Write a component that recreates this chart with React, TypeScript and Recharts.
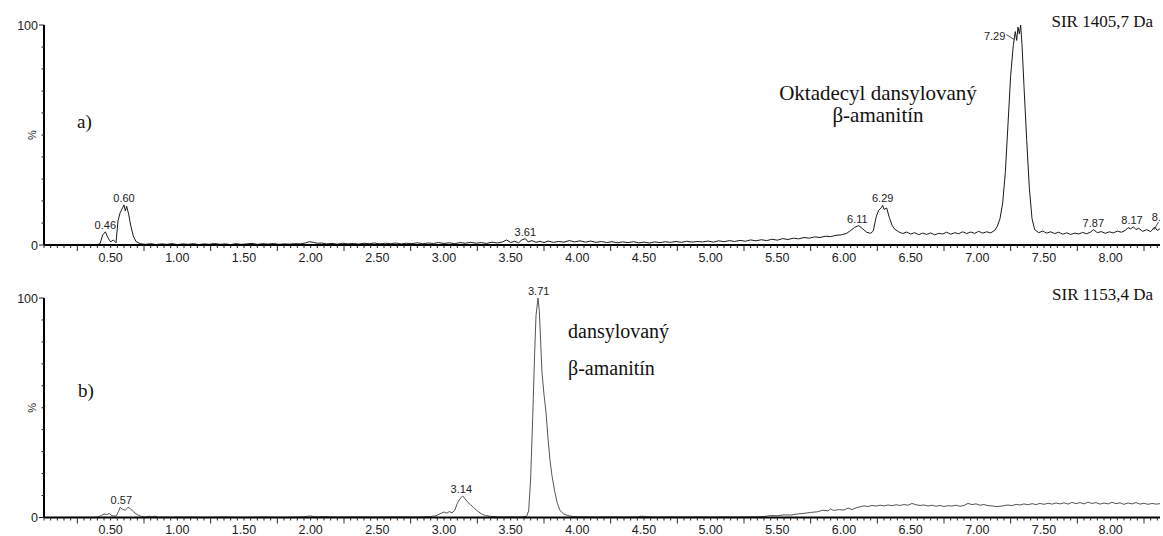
import { LineChart, Line, XAxis, YAxis, ReferenceDot } from 'recharts'

// SIR 1405,7 Da trace (time in min, intensity in %)
const traceA: [number, number][] = [
  [0.0, 0], [0.4, 0.2], [0.42, 0.6], [0.44, 4.5], [0.46, 6.0], [0.48, 3.2], [0.5, 1.4], [0.52, 2.3], [0.54, 1.0],
  [0.555, 11], [0.57, 14.5], [0.59, 17], [0.6, 18.2], [0.61, 15.5], [0.62, 17.6], [0.635, 14], [0.65, 9], [0.67, 4],
  [0.69, 1.6], [0.72, 0.6], [0.76, 0.3], [0.8, 0.6], [0.84, 0.2], [0.88, 0.5], [0.92, 0.3], [0.96, 0.6], [1.0, 0.2],
  [1.04, 0.5], [1.08, 0.3], [1.12, 0.6], [1.16, 0.2], [1.2, 0.5], [1.24, 0.3], [1.28, 0.7], [1.32, 0.3], [1.36, 0.5],
  [1.4, 0.2], [1.44, 0.6], [1.48, 0.3], [1.52, 0.5], [1.56, 0.7], [1.6, 0.3], [1.64, 0.6], [1.68, 0.4], [1.72, 0.7],
  [1.76, 0.3], [1.8, 0.5], [1.84, 0.4], [1.88, 0.6], [1.92, 0.5], [1.96, 0.9], [1.99, 1.5], [2.02, 1.2], [2.05, 0.8],
  [2.08, 0.9], [2.12, 0.5], [2.16, 0.7], [2.2, 0.4], [2.24, 0.8], [2.28, 0.5], [2.32, 0.7], [2.36, 0.4], [2.4, 0.8],
  [2.44, 0.6], [2.48, 0.9], [2.52, 0.5], [2.56, 0.8], [2.6, 0.6], [2.64, 0.9], [2.68, 0.5], [2.72, 0.8], [2.76, 0.6],
  [2.8, 1.0], [2.84, 0.6], [2.88, 0.9], [2.92, 0.7], [2.96, 1.1], [3.0, 0.7], [3.04, 1.0], [3.08, 0.6], [3.12, 1.1],
  [3.16, 0.8], [3.2, 1.2], [3.24, 0.8], [3.28, 1.1], [3.32, 0.7], [3.36, 1.3], [3.4, 0.9], [3.44, 1.4], [3.47, 2.3],
  [3.5, 1.1], [3.53, 1.7], [3.56, 1.0], [3.58, 2.2], [3.61, 2.9], [3.63, 1.4], [3.66, 2.0], [3.69, 1.2], [3.72, 1.7],
  [3.75, 1.1], [3.78, 1.8], [3.82, 1.2], [3.86, 1.6], [3.9, 1.3], [3.94, 2.0], [3.98, 1.4], [4.02, 1.9], [4.06, 1.3],
  [4.1, 1.8], [4.14, 1.2], [4.18, 1.6], [4.22, 1.1], [4.26, 1.5], [4.3, 1.0], [4.34, 1.4], [4.38, 1.1], [4.42, 1.5],
  [4.46, 1.0], [4.5, 1.3], [4.54, 0.9], [4.58, 1.4], [4.62, 1.1], [4.66, 1.5], [4.7, 1.2], [4.74, 1.6], [4.78, 1.2],
  [4.82, 1.7], [4.86, 1.3], [4.9, 1.6], [4.94, 1.4], [4.98, 1.8], [5.02, 1.3], [5.06, 1.9], [5.1, 1.5], [5.14, 2.0],
  [5.18, 1.6], [5.22, 2.1], [5.26, 1.7], [5.3, 2.3], [5.34, 1.9], [5.38, 2.4], [5.42, 2.0], [5.46, 2.6], [5.5, 2.2],
  [5.54, 2.9], [5.58, 2.5], [5.62, 3.1], [5.66, 2.8], [5.7, 3.4], [5.74, 3.1], [5.78, 3.7], [5.82, 3.4], [5.86, 4.0],
  [5.9, 3.8], [5.94, 4.4], [5.98, 4.6], [6.02, 5.3], [6.05, 6.6], [6.08, 8.0], [6.11, 8.8], [6.14, 7.4], [6.17, 5.8],
  [6.2, 5.3], [6.22, 6.4], [6.24, 12.5], [6.26, 15.8], [6.28, 17.0], [6.29, 18.0], [6.3, 16.2], [6.32, 16.8],
  [6.34, 12.5], [6.36, 9.0], [6.38, 7.2], [6.41, 6.0], [6.44, 5.2], [6.47, 5.9], [6.5, 5.0], [6.53, 5.6], [6.56, 4.7],
  [6.59, 5.4], [6.62, 4.8], [6.65, 5.5], [6.68, 4.6], [6.71, 5.3], [6.74, 5.0], [6.77, 5.8], [6.8, 4.9], [6.83, 5.6],
  [6.86, 5.1], [6.89, 6.0], [6.92, 5.2], [6.95, 5.9], [6.98, 5.3], [7.01, 6.2], [7.04, 5.4], [7.07, 6.0], [7.1, 5.5],
  [7.13, 6.6], [7.15, 8.5], [7.17, 12], [7.19, 19], [7.21, 33], [7.23, 55], [7.25, 77], [7.27, 91], [7.285, 97],
  [7.295, 93], [7.305, 99], [7.315, 96], [7.325, 100], [7.335, 91], [7.35, 72], [7.37, 48], [7.39, 26], [7.41, 12],
  [7.43, 7.0], [7.46, 5.6], [7.49, 6.3], [7.52, 5.4], [7.55, 6.0], [7.58, 5.2], [7.61, 5.8], [7.64, 4.9], [7.67, 5.5],
  [7.7, 4.8], [7.73, 5.4], [7.76, 5.0], [7.79, 5.7], [7.82, 5.1], [7.85, 5.9], [7.87, 7.0], [7.9, 5.6], [7.93, 6.1],
  [7.96, 5.3], [7.99, 6.0], [8.02, 5.5], [8.05, 6.3], [8.08, 5.8], [8.11, 6.6], [8.13, 7.9], [8.15, 7.3], [8.17, 8.3],
  [8.19, 7.0], [8.21, 7.6], [8.24, 6.2], [8.27, 7.0], [8.3, 6.1], [8.33, 8.2], [8.35, 6.6], [8.37, 7.4],
]

// SIR 1153,4 Da trace
const traceB: [number, number][] = [
  [0.0, 0], [0.4, 0.1], [0.43, 0.9], [0.45, 1.6], [0.47, 1.4], [0.49, 1.8], [0.51, 0.8], [0.54, 0.6], [0.56, 2.8],
  [0.57, 4.6], [0.59, 3.7], [0.61, 3.3], [0.63, 4.7], [0.65, 3.9], [0.67, 2.6], [0.7, 1.3], [0.73, 0.5], [0.76, 0.2],
  [0.79, 0.6], [0.81, 0.3], [0.83, 0.6], [0.86, 0.1], [0.9, 0.2], [0.95, 0.1], [1.0, 0.2], [1.05, 0.1], [1.1, 0.2],
  [1.2, 0.1], [1.35, 0.2], [1.5, 0.1], [1.65, 0.2], [1.8, 0.1], [1.95, 0.3], [1.99, 0.7], [2.02, 0.5], [2.06, 0.3],
  [2.1, 0.4], [2.2, 0.2], [2.35, 0.3], [2.5, 0.2], [2.65, 0.3], [2.8, 0.2], [2.9, 0.4], [2.94, 0.8], [2.97, 1.7],
  [3.0, 2.5], [3.02, 2.0], [3.04, 2.7], [3.06, 2.1], [3.08, 3.2], [3.1, 6.5], [3.12, 8.6], [3.14, 9.8], [3.16, 8.4],
  [3.18, 6.8], [3.2, 5.8], [3.22, 4.6], [3.25, 3.0], [3.28, 1.7], [3.31, 0.9], [3.35, 0.5], [3.4, 0.3], [3.45, 0.2],
  [3.5, 0.3], [3.55, 0.2], [3.6, 0.3], [3.62, 0.6], [3.635, 3], [3.65, 18], [3.665, 45], [3.68, 75], [3.69, 92],
  [3.705, 100], [3.715, 94], [3.725, 80], [3.735, 66], [3.75, 56], [3.765, 48], [3.78, 36], [3.795, 26], [3.81, 19],
  [3.83, 12], [3.85, 6.5], [3.87, 3.2], [3.9, 1.5], [3.94, 0.7], [3.98, 0.4], [4.05, 0.3], [4.15, 0.2], [4.25, 0.3],
  [4.35, 0.2], [4.45, 0.3], [4.48, 0.6], [4.52, 0.4], [4.6, 0.2], [4.7, 0.3], [4.8, 0.2], [4.9, 0.3], [5.0, 0.2],
  [5.1, 0.3], [5.2, 0.2], [5.3, 0.3], [5.4, 0.4], [5.45, 0.9], [5.5, 0.8], [5.55, 1.2], [5.6, 1.1], [5.65, 1.6],
  [5.7, 1.9], [5.75, 2.3], [5.8, 2.6], [5.84, 3.3], [5.88, 3.0], [5.9, 3.9], [5.92, 3.2], [5.96, 3.6], [6.0, 3.4],
  [6.03, 4.3], [6.06, 3.6], [6.09, 4.4], [6.12, 4.9], [6.15, 5.3], [6.18, 5.0], [6.21, 5.5], [6.24, 5.2], [6.27, 5.6],
  [6.3, 5.3], [6.33, 5.7], [6.36, 5.4], [6.39, 5.8], [6.42, 5.5], [6.45, 5.9], [6.48, 5.6], [6.51, 6.4], [6.54, 5.8],
  [6.57, 5.5], [6.6, 5.7], [6.63, 5.2], [6.66, 5.6], [6.69, 5.1], [6.72, 5.5], [6.75, 5.0], [6.78, 5.4], [6.81, 5.2],
  [6.84, 5.6], [6.87, 5.1], [6.9, 5.5], [6.93, 6.4], [6.96, 5.9], [6.99, 6.2], [7.02, 5.6], [7.05, 5.9], [7.08, 5.4],
  [7.11, 5.3], [7.14, 5.0], [7.17, 5.1], [7.2, 5.4], [7.23, 5.7], [7.26, 5.4], [7.29, 6.0], [7.32, 5.7], [7.35, 6.2],
  [7.38, 5.8], [7.41, 6.3], [7.44, 5.9], [7.47, 6.4], [7.5, 6.0], [7.53, 6.5], [7.56, 6.1], [7.59, 6.6], [7.62, 6.2],
  [7.65, 6.7], [7.68, 6.1], [7.71, 6.9], [7.74, 6.3], [7.77, 6.8], [7.8, 6.2], [7.83, 7.0], [7.86, 6.4], [7.89, 6.8],
  [7.92, 6.1], [7.95, 6.6], [7.98, 6.2], [8.01, 6.9], [8.04, 6.3], [8.07, 6.7], [8.1, 6.0], [8.13, 6.6], [8.16, 6.2],
  [8.19, 6.8], [8.22, 6.1], [8.25, 6.5], [8.28, 6.0], [8.31, 6.4], [8.34, 6.1], [8.37, 6.3],
]

type Peak = { t: number; v: number; label: string; kind?: 'left' | 'edge' }

const peaksA: Peak[] = [
  { t: 0.46, v: 6.0, label: '0.46' },
  { t: 0.6, v: 18.2, label: '0.60' },
  { t: 3.61, v: 2.9, label: '3.61' },
  { t: 6.1, v: 8.8, label: '6.11' },
  { t: 6.29, v: 18.0, label: '6.29' },
  { t: 7.285, v: 97, label: '7.29', kind: 'left' },
  { t: 7.87, v: 7.0, label: '7.87' },
  { t: 8.16, v: 8.3, label: '8.17' },
  { t: 8.33, v: 8.2, label: '8.', kind: 'edge' },
]

const peaksB: Peak[] = [
  { t: 0.58, v: 4.6, label: '0.57' },
  { t: 3.13, v: 9.8, label: '3.14' },
  { t: 3.71, v: 100, label: '3.71' },
]

const xLabels = ['0.50', '1.00', '1.50', '2.00', '2.50', '3.00', '3.50', '4.00', '4.50', '5.00', '5.50', '6.00', '6.50', '7.00', '7.50', '8.00']
const yLabels = ['0', '100']
const xTicks = Array.from({ length: 168 }, (_, i) => +(i * 0.05).toFixed(2))
const yTicks = [0, 10, 20, 30, 40, 50, 60, 70, 80, 90, 100]

const SANS = '"Liberation Sans", Arial, sans-serif'
const SERIF = '"Liberation Serif", "Times New Roman", serif'
const INK = '#222'

function TimeTick({ x, y, payload }: any) {
  const k = Math.round(payload.value * 20)
  const label = payload.value.toFixed(2)
  const len = k % 10 === 5 ? 6 : 3
  return (
    <g>
      <line x1={x} x2={x} y1={y} y2={y + len} stroke={INK} strokeWidth={1} />
      {xLabels.includes(label) && (
        <text x={x} y={y + 16.5} textAnchor="middle" fontSize={12.5} fontFamily={SANS} fill={INK}>{label}</text>
      )}
    </g>
  )
}

function PercentTick({ x, y, payload }: any) {
  const v = payload.value
  const label = String(v)
  const major = yLabels.includes(label)
  return (
    <g>
      <line x1={x - (major ? 5 : 2.5)} x2={x} y1={y} y2={y} stroke={INK} strokeWidth={1} />
      {major && (
        <text x={x - 6} y={y + 4.5} textAnchor="end" fontSize={12.5} fontFamily={SANS} fill={INK}>{label}</text>
      )}
      {v === 50 && (
        <text x={x - 8} y={y} textAnchor="middle" fontSize={11} fontFamily={SANS} fill={INK}
          transform={`rotate(-90, ${x - 8}, ${y})`}>%</text>
      )}
    </g>
  )
}

function peakShape(p: Peak) {
  return (props: any) => {
    const { cx, cy } = props
    const font = { fontSize: 11, fontFamily: SANS, fill: INK }
    if (p.kind === 'left') {
      return (
        <g>
          <text x={cx - 10} y={cy + 8} textAnchor="end" {...font}>{p.label}</text>
          <line x1={cx - 9} y1={cy + 3} x2={cx - 1} y2={cy + 8} stroke={INK} strokeWidth={0.8} />
        </g>
      )
    }
    if (p.kind === 'edge') {
      return (
        <g>
          <text x={cx - 3} y={cy - 6} textAnchor="start" {...font}>{p.label}</text>
          <line x1={cx + 4} y1={cy - 5} x2={cx - 1} y2={cy + 3} stroke={INK} strokeWidth={0.8} />
        </g>
      )
    }
    return <text x={cx} y={cy - 3} textAnchor="middle" {...font}>{p.label}</text>
  }
}

function Trace({ data, peaks, color, height, top, xHeight }: {
  data: [number, number][]; peaks: Peak[]; color: string; height: number; top: number; xHeight: number
}) {
  const rows = data.map(([t, v]) => ({ t, v }))
  return (
    <LineChart width={1163} height={height} data={rows} margin={{ top, right: 3, bottom: 0, left: 0 }}>
      <XAxis dataKey="t" type="number" domain={[0, 8.37]} ticks={xTicks} interval={0} allowDataOverflow
        height={xHeight} tickSize={0} tickMargin={0} tick={<TimeTick />} tickLine={false}
        axisLine={{ stroke: '#000', strokeWidth: 2 }} />
      <YAxis type="number" domain={[0, 100]} ticks={yTicks} interval={0} allowDataOverflow width={44}
        tickSize={0} tickMargin={0} tick={<PercentTick />} tickLine={false}
        axisLine={{ stroke: '#000', strokeWidth: 2 }} />
      <Line type="linear" dataKey="v" stroke={color} strokeWidth={1} dot={false} isAnimationActive={false} />
      {peaks.map((p) => (
        <ReferenceDot key={p.label} x={p.t} y={p.v} r={0} shape={peakShape(p)} ifOverflow="visible" />
      ))}
    </LineChart>
  )
}

export default function App() {
  return (
    <div style={{ position: 'absolute', left: 0, top: 0, width: 1163, height: 536, background: '#fff' }}>
      <div style={{ position: 'absolute', left: 0, top: 0 }}>
        <Trace data={traceA} peaks={peaksA} color="#1a1a1a" height={275} top={25} xHeight={30} />
      </div>
      <div style={{ position: 'absolute', left: 0, top: 275 }}>
        <Trace data={traceB} peaks={peaksB} color="#555" height={261} top={23} xHeight={18.5} />
      </div>
      <svg width={1163} height={536} style={{ position: 'absolute', left: 0, top: 0, pointerEvents: 'none' }}>
        <g fontFamily={SERIF} fill="#111">
          <text x={1153} y={27} textAnchor="end" fontSize={17}>SIR 1405,7 Da</text>
          <text x={878} y={100} textAnchor="middle" fontSize={21}>Oktadecyl dansylovaný</text>
          <text x={878} y={122} textAnchor="middle" fontSize={21}>β-amanitín</text>
          <text x={77} y={128} fontSize={19}>a)</text>
          <text x={1153} y={300} textAnchor="end" fontSize={17}>SIR 1153,4 Da</text>
          <text x={568} y={338} fontSize={20}>dansylovaný</text>
          <text x={568} y={375} fontSize={20}>β-amanitín</text>
          <text x={78} y={397} fontSize={19}>b)</text>
        </g>
      </svg>
    </div>
  )
}
